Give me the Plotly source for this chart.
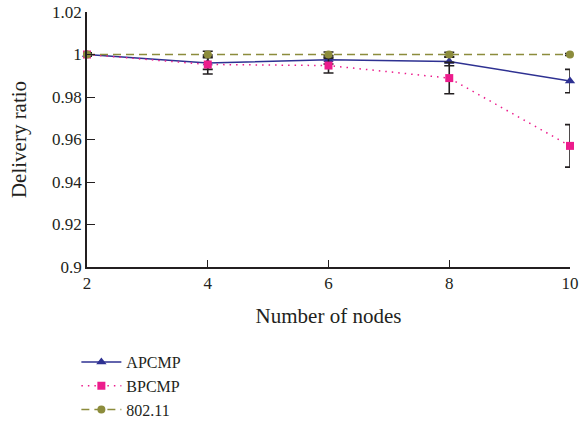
import plotly.graph_objects as go

nodes = [2, 4, 6, 8, 10]
apcmp = [1.0, 0.996, 0.9975, 0.9967, 0.9875]
apcmp_err = [0.0007, 0.003, 0.002, 0.002, 0.0055]
bpcmp = [1.0, 0.9953, 0.9948, 0.9889, 0.957]
bpcmp_err = [0.0007, 0.0045, 0.0035, 0.0074, 0.010]
ieee = [1.0, 1.0, 1.0, 1.0, 1.0]
ieee_err = [0.0007, 0.0015, 0.0012, 0.001, 0.0005]

y_ticks = [0.9, 0.92, 0.94, 0.96, 0.98, 1.0, 1.02]
y_labels = ["0.9", "0.92", "0.94", "0.96", "0.98", "1", "1.02"]
x_ticks = [2, 4, 6, 8, 10]

err_style = dict(type="data", visible=True, color="#231f20", thickness=1.6, width=5)

fig = go.Figure()
fig.add_trace(go.Scatter(
    x=nodes, y=apcmp, name="APCMP", mode="lines+markers",
    line=dict(color="#2e3192", width=1.5),
    marker=dict(symbol="triangle-up", size=9, color="#2e3192"),
    error_y=dict(array=apcmp_err, **err_style), cliponaxis=False))
fig.add_trace(go.Scatter(
    x=nodes, y=bpcmp, name="BPCMP", mode="lines+markers",
    line=dict(color="#ec1c8c", width=1.5, dash="1.5px,5px"),
    marker=dict(symbol="square", size=8, color="#ec1c8c"),
    error_y=dict(array=bpcmp_err, **err_style), cliponaxis=False))
fig.add_trace(go.Scatter(
    x=nodes, y=ieee, name="802.11", mode="lines+markers",
    line=dict(color="#8c8c3c", width=1.5, dash="8px,5px"),
    marker=dict(symbol="circle", size=8, color="#8c8c3c"),
    error_y=dict(array=ieee_err, **err_style), cliponaxis=False))

font = "Liberation Serif, Times New Roman, serif"
fig.update_layout(
    width=582, height=433,
    margin=dict(l=87, r=12, t=12, b=166),
    paper_bgcolor="white", plot_bgcolor="white",
    font=dict(family=font, size=16, color="#231f20"),
    showlegend=True,
    legend=dict(x=-0.022, xref="paper", y=0.203, yref="container",
                xanchor="left", yanchor="top",
                font=dict(family=font, size=16, color="#231f20"),
                tracegroupgap=0, itemwidth=40, bgcolor="rgba(0,0,0,0)"),
    xaxis=dict(range=[2, 10], tickvals=x_ticks, ticks="inside", ticklen=7,
               tickcolor="#231f20", showline=True, linecolor="#231f20", linewidth=1.5,
               showgrid=False, zeroline=False, automargin=False,
               ticklabeloverflow="allow",
               tickfont=dict(family=font, size=17, color="#231f20"),
               title=dict(text="Number of nodes", standoff=16,
                          font=dict(family=font, size=21, color="#231f20"))),
    yaxis=dict(range=[0.9, 1.02], tickvals=y_ticks, ticktext=y_labels,
               ticks="inside", ticklen=8, tickcolor="#231f20",
               showline=True, linecolor="#231f20", linewidth=1.5,
               showgrid=False, zeroline=False, automargin=False,
               ticklabeloverflow="allow",
               tickfont=dict(family=font, size=17, color="#231f20"),
               title=dict(text="Delivery ratio", standoff=20,
                          font=dict(family=font, size=21, color="#231f20"))),
)
fig.write_html("out.html", config={"displayModeBar": False},
               post_script="document.body.style.margin='0';")
